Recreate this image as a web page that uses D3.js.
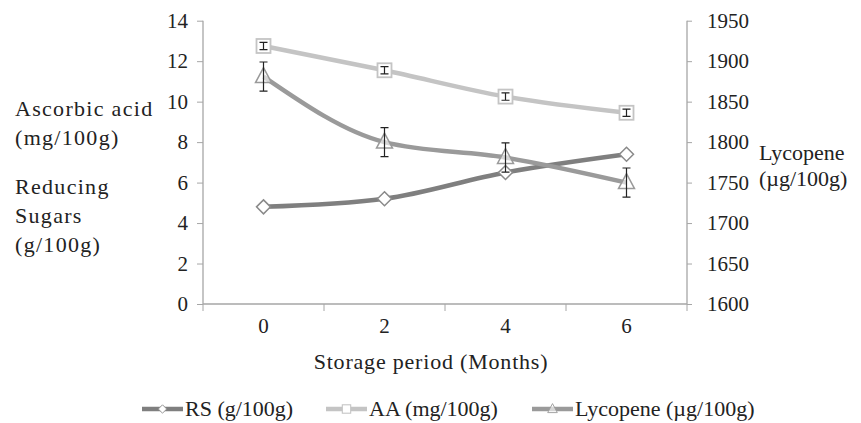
<!DOCTYPE html>
<html>
<head>
<meta charset="utf-8">
<script src="https://cdn.jsdelivr.net/npm/d3@7"></script>
<style>
  body { margin: 0; background: #fff; }
</style>
</head>
<body>
<svg id="chart" width="861" height="423"></svg>
<script>
// data
var months = ["0", "2", "4", "6"];
var rs = [4.8, 5.2, 6.5, 7.4];
var aa = [12.75, 11.55, 10.25, 9.45];
var aa_err = [0.18, 0.18, 0.18, 0.18];
var lyc = [1881, 1800, 1781, 1750];
var lyc_err = [18, 18, 18, 18];
var leftTicks = [0, 2, 4, 6, 8, 10, 12, 14];
var rightTicks = [1600, 1650, 1700, 1750, 1800, 1850, 1900, 1950];

var svg = d3.select("#chart");
var fs = 21;
var font = "\"Liberation Serif\"";

var x = d3.scaleBand().domain(months).range([203, 687]);
var yL = d3.scaleLinear().domain([0, 14]).range([304, 20.7]);
var yR = d3.scaleLinear().domain([1600, 1950]).range([304, 20.7]);
var axisCol = "#a6a6a6";

// left axis
var gl = svg.append("g").attr("transform", "translate(203,0)")
    .call(d3.axisLeft(yL).tickValues(leftTicks).tickFormat(d3.format("d")).tickSize(6).tickPadding(9));
// right axis
var gr = svg.append("g").attr("transform", "translate(687,0)")
    .call(d3.axisRight(yR).tickValues(rightTicks).tickFormat(d3.format("d")).tickSize(5).tickPadding(15));
// x axis, ticks sit on the band edges
var gx = svg.append("g").attr("transform", "translate(0,304)")
    .call(d3.axisBottom(x).tickSize(0).tickPadding(14));
gx.selectAll(".edge")
    .data(d3.range(5))
    .join("line")
    .attr("x1", d=>203 + d*x.step())
    .attr("x2", d=>203 + d*x.step())
    .attr("y1", 0).attr("y2", 7)
    .attr("stroke", axisCol);

[gl, gr, gx].forEach(g=>{
    g.attr("font-family", null).attr("font-size", null);
    g.select(".domain").attr("stroke", axisCol).attr("stroke-width", 1.3);
    g.selectAll(".tick line").attr("stroke", axisCol);
    g.selectAll("text").style("font-family", font).style("font-size", fs + "px").attr("fill", "#222");
});
gl.select(".domain").attr("d", "M0,20.7V304");
gr.select(".domain").attr("d", "M0,20.7V304");
gx.select(".domain").attr("d", "M203,0H687");

var cx = d=>x(d) + x.bandwidth()/2;

var series = [
    {name: "RS (g/100g)", vals: rs, err: null, y: yL, color: "#7f7f7f", mcol: "#8a8a8a", shape: "diamond"},
    {name: "AA (mg/100g)", vals: aa, err: aa_err, y: yL, color: "#c4c4c4", mcol: "#c4c4c4", shape: "square"},
    {name: "Lycopene (\u00b5g/100g)", vals: lyc, err: lyc_err, y: yR, color: "#9a9a9a", mcol: "#9a9a9a", shape: "triangle"}
];

var line = d3.line().curve(d3.curveMonotoneX);

function marker(g, shape, col, px, py) {
    if (shape === "diamond") {
        g.append("path").attr("d", `M${px},${py-7}L${px+7},${py}L${px},${py+7}L${px-7},${py}Z`)
            .attr("fill", "#fff").attr("stroke", col).attr("stroke-width", 1.5);
    } else if (shape === "square") {
        g.append("rect").attr("x", px-7).attr("y", py-7).attr("width", 14).attr("height", 14)
            .attr("fill", "#fff").attr("stroke", col).attr("stroke-width", 1.8);
    } else {
        g.append("path").attr("d", `M${px},${py-9}L${px+8},${py+6}L${px-8},${py+6}Z`)
            .attr("fill", "#fff").attr("fill-opacity", 0.6).attr("stroke", col).attr("stroke-width", 1.5);
    }
}

series.forEach(s=>{
    var pts = months.map((m, i)=>[cx(m), s.y(s.vals[i])]);
    svg.append("path")
        .attr("d", line(pts))
        .attr("fill", "none")
        .attr("stroke", s.color)
        .attr("stroke-width", 4.5);
    var mg = svg.append("g");
    pts.forEach((p, i)=>{
        marker(mg, s.shape, s.mcol, p[0], p[1]);
        if (s.err) {
            var y1 = s.y(s.vals[i] + s.err[i]), y2 = s.y(s.vals[i] - s.err[i]);
            mg.append("path")
                .attr("d", `M${p[0]},${y1}V${y2}M${p[0]-4},${y1}H${p[0]+4}M${p[0]-4},${y2}H${p[0]+4}`)
                .attr("stroke", "#222").attr("stroke-width", 1.2).attr("fill", "none");
        }
    });
});

function txt(sel, size) {
    return sel.style("font-family", font).style("font-size", (size || 22) + "px").attr("fill", "#222");
}

// axis titles
txt(svg.append("text")).attr("x", 431).attr("y", 369).attr("text-anchor", "middle")
    .style("letter-spacing", "0.8px")
    .text("Storage period (Months)");

var leftTitle = [["Ascorbic acid", 116], ["(mg/100g)", 145], ["Reducing", 194], ["Sugars", 223], ["(g/100g)", 252]];
txt(svg.selectAll(".ltitle").data(leftTitle).join("text"))
    .attr("x", 15).attr("y", d=>d[1])
    .style("letter-spacing", "1.3px")
    .text(d=>d[0]);

var rightTitle = [["Lycopene", 160], ["(\u00b5g/100g)", 186]];
txt(svg.selectAll(".rtitle").data(rightTitle).join("text"))
    .attr("x", 759).attr("y", d=>d[1])
    .text(d=>d[0]);

// legend
var legX = [142, 326, 532];
series.forEach((s, i)=>{
    var lg = svg.append("g").attr("transform", `translate(${legX[i]},416)`);
    lg.append("line").attr("x1", 0).attr("x2", 41).attr("y1", -7).attr("y2", -7)
        .attr("stroke", s.color).attr("stroke-width", 4.5);
    var m = lg.append("g").attr("transform", "translate(20.5,-7) scale(0.6) translate(-20.5,7)");
    marker(m, s.shape, s.mcol, 20.5, -7);
    txt(lg.append("text")).attr("x", 43).attr("y", 0).text(s.name);
});
</script>
</body>
</html>
